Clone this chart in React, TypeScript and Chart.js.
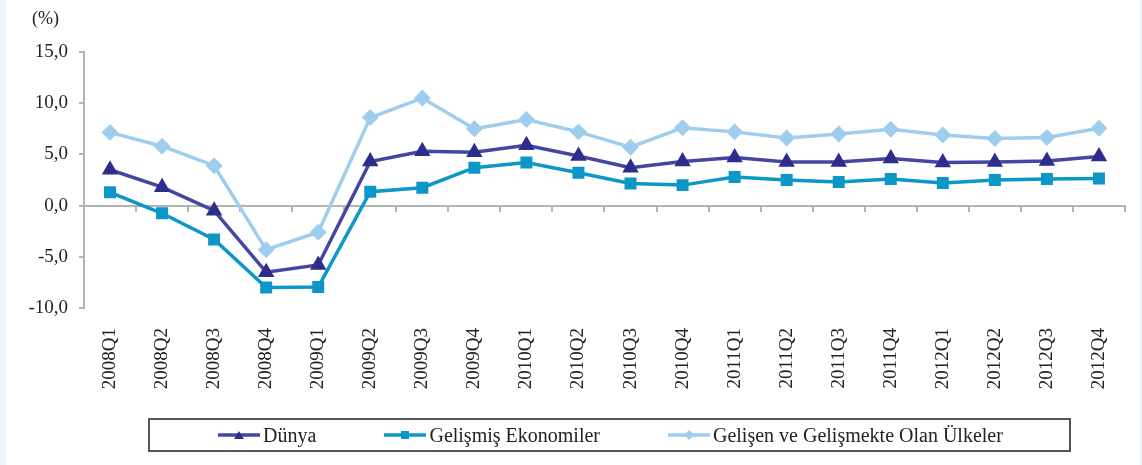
import React, { useEffect, useRef } from "react";
import { Chart, registerables } from "chart.js";

Chart.register(...registerables);

const categories = [
  "2008Q1", "2008Q2", "2008Q3", "2008Q4",
  "2009Q1", "2009Q2", "2009Q3", "2009Q4",
  "2010Q1", "2010Q2", "2010Q3", "2010Q4",
  "2011Q1", "2011Q2", "2011Q3", "2011Q4",
  "2012Q1", "2012Q2", "2012Q3", "2012Q4",
];

const dunya = [3.5, 1.8, -0.5, -6.5, -5.8, 4.3, 5.3, 5.2, 5.9, 4.85, 3.7, 4.3, 4.7, 4.25, 4.25, 4.6, 4.2, 4.25, 4.35, 4.8];
const gelismis = [1.3, -0.75, -3.3, -8.0, -7.95, 1.35, 1.75, 3.7, 4.2, 3.2, 2.15, 2.0, 2.8, 2.5, 2.3, 2.6, 2.2, 2.5, 2.6, 2.65];
const gelisen = [7.15, 5.8, 3.9, -4.3, -2.6, 8.6, 10.5, 7.5, 8.4, 7.2, 5.7, 7.6, 7.2, 6.6, 7.0, 7.45, 6.9, 6.55, 6.65, 7.55];

const seriesNames = ["Dünya", "Gelişmiş Ekonomiler", "Gelişen ve Gelişmekte Olan Ülkeler"];
const yTicks = [-10, -5, 0, 5, 10, 15];

const DUNYA_LINE = "#4646a2";
const DUNYA_PT = "#2d2d8c";
const GELISMIS = "#0c97c8";
const GELISEN = "#9ecdee";
const AXIS = "#b4b4b4";
const SERIF = "'Liberation Serif', 'Times New Roman', serif";

function LegendSample({ kind, line, fill }: { kind: string; line: string; fill: string }) {
  let marker: React.ReactNode = null;
  if (kind === "triangle") marker = <polygon points="21,2 26,10 16,10" fill={fill} />;
  if (kind === "rect") marker = <rect x={17} y={2} width={8} height={8} fill={fill} />;
  if (kind === "diamond") marker = <polygon points="21,1 26,6 21,11 16,6" fill={fill} />;
  return (
    <svg width={42} height={12} style={{ display: "block" }}>
      <line x1={0} y1={6} x2={42} y2={6} stroke={line} strokeWidth={3.5} />
      {marker}
    </svg>
  );
}

export default function App() {
  const ref = useRef<HTMLCanvasElement>(null);

  useEffect(() => {
    if (!ref.current) return;
    const chart = new Chart(ref.current, {
      type: "line",
      data: {
        labels: categories,
        datasets: [
          {
            label: seriesNames[2],
            data: gelisen,
            xAxisID: "x",
            yAxisID: "y",
            borderColor: GELISEN,
            backgroundColor: GELISEN,
            borderWidth: 3.5,
            pointStyle: "rectRot",
            pointRadius: 6,
            pointBackgroundColor: GELISEN,
            pointBorderColor: GELISEN,
            tension: 0,
          },
          {
            label: seriesNames[1],
            data: gelismis,
            xAxisID: "x",
            yAxisID: "y",
            borderColor: GELISMIS,
            backgroundColor: GELISMIS,
            borderWidth: 3.5,
            pointStyle: "rect",
            pointRadius: 6,
            pointBackgroundColor: GELISMIS,
            pointBorderColor: GELISMIS,
            tension: 0,
          },
          {
            label: seriesNames[0],
            data: dunya,
            xAxisID: "x",
            yAxisID: "y",
            borderColor: DUNYA_LINE,
            backgroundColor: DUNYA_PT,
            borderWidth: 3.5,
            pointStyle: "triangle",
            pointRadius: 6,
            pointBackgroundColor: DUNYA_PT,
            pointBorderColor: DUNYA_PT,
            tension: 0,
          },
        ],
      },
      options: {
        animation: false,
        responsive: true,
        maintainAspectRatio: false,
        layout: { padding: { top: 52, right: 3, bottom: 0, left: 0 } },
        plugins: {
          legend: { display: false },
          tooltip: { enabled: false },
        },
        scales: {
          x: {
            type: "category",
            position: { y: 0 } as any,
            offset: true,
            grid: {
              offset: true,
              drawOnChartArea: false,
              drawTicks: true,
              tickLength: 5,
              color: AXIS,
              lineWidth: 2,
            },
            border: { display: true, color: AXIS, width: 2 },
            ticks: { display: false },
          },
          xl: {
            type: "category",
            position: "bottom",
            offset: true,
            grid: { display: false, drawTicks: false },
            border: { display: false },
            ticks: {
              autoSkip: false,
              minRotation: 90,
              maxRotation: 90,
              padding: 20,
              color: "#222",
              font: { family: SERIF, size: 19 },
            },
            afterFit: (scale: any) => {
              scale.height = 157;
            },
          },
          y: {
            type: "linear",
            position: "left",
            min: yTicks[0],
            max: yTicks[yTicks.length - 1],
            afterBuildTicks: (scale: any) => {
              scale.ticks = yTicks.map((v) => ({ value: v }));
            },
            grid: {
              drawOnChartArea: false,
              drawTicks: true,
              tickLength: 5,
              color: AXIS,
              lineWidth: 2,
            },
            border: { display: true, color: AXIS, width: 2 },
            ticks: {
              padding: 11,
              color: "#222",
              font: { family: SERIF, size: 19 },
              callback: (v: any) => Number(v).toFixed(1).replace(".", ","),
            },
            afterFit: (scale: any) => {
              scale.width = 84;
            },
          },
        },
      },
    });
    return () => chart.destroy();
  }, []);

  const legendItems = [
    { name: seriesNames[0], kind: "triangle", line: DUNYA_LINE, fill: DUNYA_PT },
    { name: seriesNames[1], kind: "rect", line: GELISMIS, fill: GELISMIS },
    { name: seriesNames[2], kind: "diamond", line: GELISEN, fill: GELISEN },
  ];

  return (
    <div
      style={{
        position: "fixed",
        left: 0,
        top: 0,
        width: 1142,
        height: 465,
        background: "#eaf5fc",
        overflow: "hidden",
      }}
    >
      <div style={{ position: "absolute", left: 6, top: 0, width: 1134, height: 465, background: "#ffffff" }} />
      <div style={{ position: "absolute", left: 0, top: 0, width: 1142, height: 465 }}>
        <canvas ref={ref} />
      </div>
      <div
        style={{
          position: "absolute",
          left: 32,
          top: 8,
          fontFamily: SERIF,
          fontSize: 18,
          color: "#222",
        }}
      >
        (%)
      </div>
      <div
        style={{
          position: "absolute",
          left: 148,
          top: 418,
          width: 923,
          height: 34,
          boxSizing: "border-box",
          border: "2px solid #555",
          display: "flex",
          alignItems: "center",
          justifyContent: "center",
          gap: 68,
          fontFamily: SERIF,
          fontSize: 20,
          color: "#222",
          paddingLeft: 2,
        }}
      >
        {legendItems.map((it) => (
          <div key={it.name} style={{ display: "flex", alignItems: "center", gap: 3, whiteSpace: "nowrap" }}>
            <LegendSample kind={it.kind} line={it.line} fill={it.fill} />
            <span>{it.name}</span>
          </div>
        ))}
      </div>
    </div>
  );
}
